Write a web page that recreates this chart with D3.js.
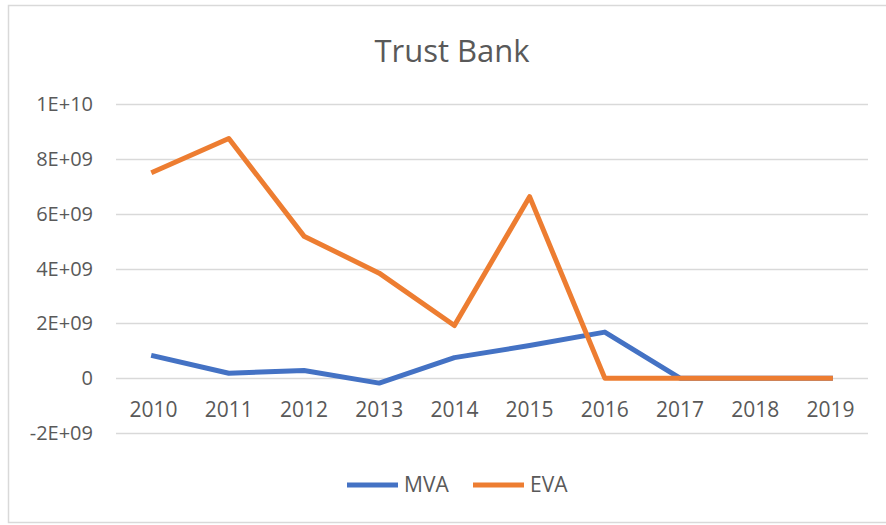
<!DOCTYPE html>
<html>
<head>
<meta charset="utf-8">
<script src="https://cdn.jsdelivr.net/npm/d3@7"></script>
<style>
    body { margin: 0; background: #fff; }
    text { font-family: "Open Sans", sans-serif; fill: #595959; }
</style>
</head>
<body>
<svg id="chart" width="886" height="525"></svg>
<script>
const years = ['2010', '2011', '2012', '2013', '2014', '2015', '2016', '2017', '2018', '2019'];
const mva = [0.81e9, 0.18e9, 0.28e9, -0.18e9, 0.75e9, 1.19e9, 1.68e9, 0, 0, 0];
const eva = [7.53e9, 8.74e9, 5.18e9, 3.83e9, 1.92e9, 6.62e9, 0, 0, 0, 0];
const yTicks = [-2e9, 0, 2e9, 4e9, 6e9, 8e9, 1e10];
const yTickLabels = ['-2E+09', '0', '2E+09', '4E+09', '6E+09', '8E+09', '1E+10'];

const series = [
    {name: 'MVA', values: mva, color: '#4472C4'},
    {name: 'EVA', values: eva, color: '#ED7D31'}
];

const svg = d3.select('#chart');
const plot = {left: 116, right: 868, top: 104, bottom: 433};

// outer frame
svg.append('rect')
    .attr('x', 8.5)
    .attr('y', 5.5)
    .attr('width', 900)
    .attr('height', 517)
    .attr('fill', 'none')
    .attr('stroke', '#d9d9d9')
    .attr('stroke-width', 1.5);

svg.append('text')
    .attr('x', 452)
    .attr('y', 62)
    .attr('text-anchor', 'middle')
    .style('font-size', '31px')
    .text('Trust Bank');

const x = d3.scaleBand()
    .domain(years)
    .range([plot.left, plot.right]);

const y = d3.scaleLinear()
    .domain([-2e9, 1e10])
    .range([plot.bottom, plot.top]);

// gridlines
svg.append('g')
  .selectAll('line')
  .data(yTicks)
  .enter()
  .append('line')
    .attr('x1', plot.left)
    .attr('x2', plot.right)
    .attr('y1', (d) => Math.round(y(d)) + 0.5)
    .attr('y2', (d) => Math.round(y(d)) + 0.5)
    .attr('stroke', '#d9d9d9')
    .attr('stroke-width', 1.5);

// y tick labels
svg.append('g')
  .selectAll('text')
  .data(yTicks)
  .enter()
  .append('text')
    .attr('x', 93)
    .attr('y', (d) => y(d))
    .attr('dy', '0.35em')
    .attr('text-anchor', 'end')
    .style('font-size', '20px')
    .text((d, i) => yTickLabels[i]);

// x labels sit just under the zero line
svg.append('g')
  .selectAll('text')
  .data(years)
  .enter()
  .append('text')
    .attr('x', (d) => x(d) + x.bandwidth() / 2)
    .attr('y', y(0) + 39)
    .attr('text-anchor', 'middle')
    .style('font-size', '21px')
    .text((d) => d);

const line = d3.line()
    .x((d, i) => x(years[i]) + x.bandwidth() / 2)
    .y((d) => y(d));

series.forEach((s) => {
    svg.append('path')
        .datum(s.values)
        .attr('d', line)
        .attr('fill', 'none')
        .attr('stroke', s.color)
        .attr('stroke-width', 5)
        .attr('stroke-linejoin', 'round')
        .attr('stroke-linecap', 'square');
});

// legend
const legendItems = [
    {x: 347, s: series[0]},
    {x: 473, s: series[1]}
];
legendItems.forEach(({x: lx, s}) => {
    svg.append('line')
        .attr('x1', lx)
        .attr('x2', lx + 51)
        .attr('y1', 485)
        .attr('y2', 485)
        .attr('stroke', s.color)
        .attr('stroke-width', 5);
    svg.append('text')
        .attr('x', lx + 57)
        .attr('y', 485)
        .attr('dy', '0.35em')
        .style('font-size', '21px')
        .text(s.name);
});
</script>
</body>
</html>
